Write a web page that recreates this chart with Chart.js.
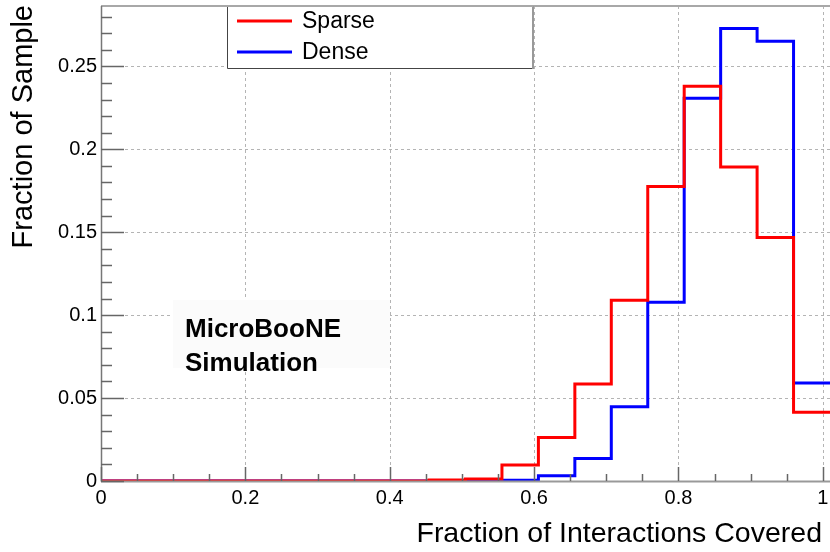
<!DOCTYPE html>
<html><head><meta charset="utf-8">
<script src="https://cdn.jsdelivr.net/npm/chart.js@4.4.0/dist/chart.umd.min.js"></script>
<style>html,body{margin:0;padding:0;background:#fff}canvas{display:block}</style>
</head><body>
<canvas id="c" width="830" height="552"></canvas>
<script>
// ---- data ----
const binEdges = [0, 0.0505, 0.101, 0.1515, 0.202, 0.2525, 0.303, 0.3535, 0.404, 0.4545, 0.505,
                  0.5555, 0.606, 0.6565, 0.707, 0.7575, 0.808, 0.8585, 0.909, 0.9595, 1.01];
const sparse = [0, 0, 0, 0, 0, 0, 0, 0, 0, 0.0006, 0.0012, 0.0097, 0.0263, 0.0585, 0.109, 0.1775, 0.238, 0.1894, 0.1468, 0.0414];
const dense  = [0, 0, 0, 0, 0, 0, 0, 0, 0, 0, 0.0003, 0.0005, 0.0032, 0.0135, 0.0448, 0.1078, 0.2308, 0.2728, 0.2652, 0.0591];
const seriesNames = ['Sparse', 'Dense'];
const seriesColors = ['#ff0000', '#0000ff'];
const xTickValues = [0, 0.2, 0.4, 0.6, 0.8, 1];
const xTickLabels = ['0', '0.2', '0.4', '0.6', '0.8', '1'];
const yTickValues = [0, 0.05, 0.1, 0.15, 0.2, 0.25];
const yTickLabels = ['0', '0.05', '0.1', '0.15', '0.2', '0.25'];
const xRange = [0, 1.01];
const yRange = [0, 0.2864];
const xTitle = 'Fraction of Interactions Covered';
const yTitle = 'Fraction of Sample';
const noteLines = ['MicroBooNE', 'Simulation'];

const FONT = '"Liberation Sans", Arial, Helvetica, sans-serif';

function histPoints(vals) {
  const pts = vals.map((v, i) => ({x: binEdges[i], y: v}));
  pts.push({x: binEdges[vals.length], y: vals[vals.length - 1]});
  return pts;
}

const decor = {
  id: 'decor',
  beforeDatasetsDraw(chart) {
    const {ctx, chartArea: a, scales: {x, y}} = chart;
    ctx.save();
    ctx.strokeStyle = '#b4b4b4';
    ctx.lineWidth = 1;
    ctx.setLineDash([3, 3]);
    xTickValues.forEach(v => {
      if (v === xRange[0]) return;
      const px = Math.round(x.getPixelForValue(v)) + 0.5;
      ctx.beginPath(); ctx.moveTo(px, a.top); ctx.lineTo(px, a.bottom); ctx.stroke();
    });
    yTickValues.forEach(v => {
      if (v === yRange[0]) return;
      const py = Math.round(y.getPixelForValue(v)) + 0.5;
      ctx.beginPath(); ctx.moveTo(a.left, py); ctx.lineTo(a.right, py); ctx.stroke();
    });
    ctx.setLineDash([]);
    // note box
    ctx.fillStyle = '#fbfbfb';
    ctx.fillRect(173, 300, 217, 68);
    ctx.fillStyle = '#000';
    ctx.font = 'bold 26px ' + FONT;
    ctx.textAlign = 'left';
    ctx.textBaseline = 'alphabetic';
    ctx.fillText(noteLines[0], 185, 337);
    ctx.fillText(noteLines[1], 185, 371);
    ctx.restore();
  },
  afterDatasetsDraw(chart) {
    const {ctx, chartArea: a, scales: {x, y}} = chart;
    ctx.save();
    // frame
    ctx.strokeStyle = '#a8a8a8';
    ctx.lineWidth = 2;
    ctx.beginPath(); ctx.moveTo(a.left, a.top); ctx.lineTo(a.right, a.top); ctx.stroke();
    ctx.strokeStyle = '#999';
    ctx.beginPath(); ctx.moveTo(a.left, a.bottom + 0.5); ctx.lineTo(a.right, a.bottom + 0.5); ctx.stroke();
    ctx.strokeStyle = '#777';
    ctx.lineWidth = 1.5;
    ctx.beginPath(); ctx.moveTo(a.left + 0.5, a.top); ctx.lineTo(a.left + 0.5, a.bottom + 1); ctx.stroke();
    // ticks
    ctx.strokeStyle = '#666';
    ctx.lineWidth = 1.5;
    for (let k = 0; k <= 28; k++) {
      const v = k * 0.01;
      const py = Math.round(y.getPixelForValue(v)) + 0.5;
      const len = (k % 5 === 0) ? 23 : 11;
      ctx.beginPath(); ctx.moveTo(a.left, py); ctx.lineTo(a.left + len, py); ctx.stroke();
    }
    for (let k = 0; k <= 20; k++) {
      const v = k * 0.05;
      const px = Math.round(x.getPixelForValue(v)) + 0.5;
      const len = (k % 4 === 0) ? 14 : 7;
      ctx.beginPath(); ctx.moveTo(px, a.bottom); ctx.lineTo(px, a.bottom - len); ctx.stroke();
    }
    // legend
    const L = {x: 227, y: 6, w: 306, h: 62};
    ctx.fillStyle = '#fff';
    ctx.fillRect(L.x, L.y, L.w, L.h);
    ctx.strokeStyle = '#444';
    ctx.lineWidth = 1;
    ctx.beginPath(); ctx.moveTo(L.x + 0.5, L.y); ctx.lineTo(L.x + 0.5, L.y + L.h + 0.5); ctx.lineTo(L.x + L.w, L.y + L.h + 0.5); ctx.stroke();
    ctx.strokeStyle = '#999';
    ctx.lineWidth = 2;
    ctx.beginPath(); ctx.moveTo(L.x + L.w, L.y); ctx.lineTo(L.x + L.w, L.y + L.h + 1); ctx.stroke();
    ctx.strokeStyle = '#a8a8a8';
    ctx.beginPath(); ctx.moveTo(L.x, a.top); ctx.lineTo(L.x + L.w, a.top); ctx.stroke();
    chart.data.datasets.forEach((ds, i) => {
      const yy = 21 + i * 31;
      ctx.strokeStyle = ds.borderColor;
      ctx.lineWidth = 3;
      ctx.beginPath(); ctx.moveTo(237, yy); ctx.lineTo(292, yy); ctx.stroke();
      ctx.fillStyle = '#000';
      ctx.font = '23px ' + FONT;
      ctx.textAlign = 'left';
      ctx.textBaseline = 'middle';
      ctx.fillText(ds.label, 302, yy + 1);
    });
    // axis titles
    ctx.fillStyle = '#000';
    ctx.font = '28.5px ' + FONT;
    ctx.textBaseline = 'alphabetic';
    ctx.textAlign = 'right';
    ctx.fillText(xTitle, 822, 542);
    ctx.font = '29px ' + FONT;
    ctx.translate(32, 5);
    ctx.rotate(-Math.PI / 2);
    ctx.fillText(yTitle, 0, 0);
    ctx.restore();
  }
};

new Chart(document.getElementById('c'), {
  type: 'line',
  data: {
    datasets: [
      {label: seriesNames[0], data: histPoints(sparse), borderColor: seriesColors[0], borderWidth: 3,
       stepped: 'before', pointRadius: 0, fill: false, tension: 0},
      {label: seriesNames[1], data: histPoints(dense), borderColor: seriesColors[1], borderWidth: 3,
       stepped: 'before', pointRadius: 0, fill: false, tension: 0}
    ]
  },
  options: {
    responsive: false,
    animation: false,
    devicePixelRatio: 1,
    layout: {padding: {top: 6, right: 0, left: 0, bottom: 0}},
    plugins: {legend: {display: false}, tooltip: {enabled: false}},
    scales: {
      x: {
        type: 'linear', min: xRange[0], max: xRange[1],
        grid: {display: false, drawTicks: false}, border: {display: false},
        afterBuildTicks: s => { s.ticks = xTickValues.map(v => ({value: v})); },
        afterFit: s => { s.height = 71; s.paddingLeft = 0; s.paddingRight = 0; },
        ticks: {font: {family: FONT, size: 20}, color: '#000', padding: 5, maxRotation: 0,
                autoSkip: false, callback: (v, i) => xTickLabels[i]}
      },
      y: {
        type: 'linear', min: yRange[0], max: yRange[1],
        grid: {display: false, drawTicks: false}, border: {display: false},
        afterBuildTicks: s => { s.ticks = yTickValues.map(v => ({value: v})); },
        afterFit: s => { s.width = 101; s.paddingTop = 0; s.paddingBottom = 0; },
        ticks: {font: {family: FONT, size: 20}, color: '#000', padding: 4,
                autoSkip: false, callback: (v, i) => yTickLabels[i]}
      }
    }
  },
  plugins: [decor]
});
</script>
</body></html>
